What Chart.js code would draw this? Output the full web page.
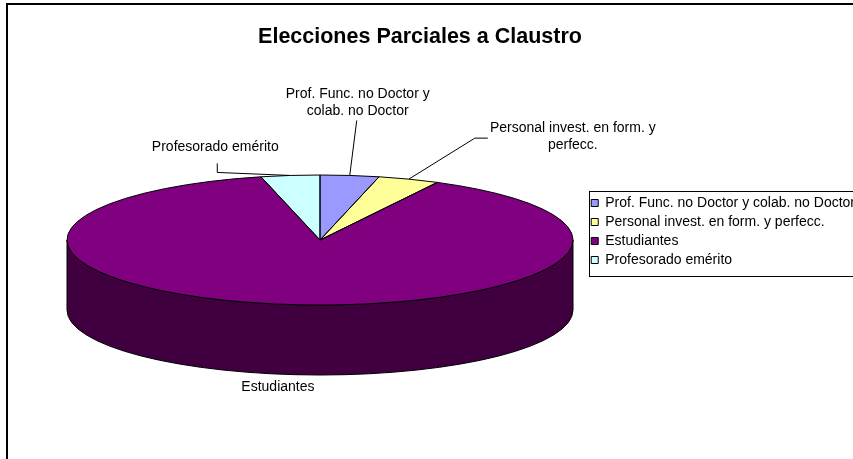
<!DOCTYPE html>
<html>
<head>
<meta charset="utf-8">
<script src="https://cdn.jsdelivr.net/npm/chart.js@4.4.1/dist/chart.umd.min.js"></script>
<style>
  html, body { margin: 0; padding: 0; overflow: hidden; background: #fff; }
  .frame { position: absolute; left: 6px; top: 3px; width: 900px; height: 520px;
           border-left: 2px solid #000; border-top: 2px solid #000; }
  .wrap { position: absolute; left: -25px; top: 0; }
</style>
</head>
<body>
<div class="frame"></div>
<div class="wrap"><canvas id="chart" width="890" height="459"></canvas></div>
<script>
// data (share of the pie, %)
const categories = [
    "Prof. Func. no Doctor y colab. no Doctor",
    "Personal invest. en form. y perfecc.",
    "Estudiantes",
    "Profesorado emérito",
];
const values = [3.75, 3.92, 88.58, 3.75];
const sliceColours = ["#9999FF", "#FFFF99", "#800080", "#CCFFFF"];
// text shown next to each slice
const sliceLabels = [
    ["Prof. Func. no Doctor y", "colab. no Doctor"],
    ["Personal invest. en form. y", "perfecc."],
    ["Estudiantes"],
    ["Profesorado emérito"],
];

const FONT = "Arial, 'Liberation Sans', sans-serif";
const SHIFT = 25; // canvas sits 25px left of the page edge

// tilted pie: centre, radii and thickness of the 3d look
const PIE = { cx: 320 + SHIFT, cy: 240, rx: 253, ry: 65, depth: 70 };

// where each label sits relative to its slice's rim point
const labelLayout = [
    { tx: 8, ty: -81, leader: [[7, -55]] },
    { tx: 164, ty: -51, leader: [[66, -41], [79, -41]] },
    { tx: -11, ty: 13, leader: [] },
    { tx: -75, ty: -28, leader: [[-73, -3], [-73, -12]] },
];

function darken(hex) {
    const n = parseInt(hex.slice(1), 16);
    const r = (n >> 16) >> 1, g = ((n >> 8) & 255) >> 1, b = (n & 255) >> 1;
    return `rgb(${r},${g},${b})`;
}

const pie3d = {
    id: "pie3d",
    beforeDatasetsDraw(chart) {
        const ctx = chart.ctx;
        const arcs = chart.getDatasetMeta(0).data;

        // side wall (only the front half can be seen)
        ctx.save();
        ctx.lineWidth = 1;
        ctx.strokeStyle = "#000";
        arcs.forEach((arc, i) => {
            for (let k = -1; k <= 1; k++) {
                const a = Math.max(arc.startAngle, k * 2 * Math.PI);
                const b = Math.min(arc.endAngle, k * 2 * Math.PI + Math.PI);
                if (b <= a) continue;
                ctx.beginPath();
                ctx.ellipse(PIE.cx, PIE.cy, PIE.rx, PIE.ry, 0, a, b);
                ctx.ellipse(PIE.cx, PIE.cy + PIE.depth, PIE.rx, PIE.ry, 0, b, a, true);
                ctx.closePath();
                ctx.fillStyle = darken(sliceColours[i]);
                ctx.fill();
                ctx.stroke();
            }
        });
        ctx.restore();

        // squash the library's circle onto the tilted top face
        const first = arcs[0];
        ctx.save();
        ctx.translate(PIE.cx, PIE.cy);
        ctx.scale(PIE.rx / first.outerRadius, PIE.ry / first.outerRadius);
        ctx.translate(-first.x, -first.y);
    },
    afterDatasetsDraw(chart) {
        const ctx = chart.ctx;
        ctx.restore();
        const arcs = chart.getDatasetMeta(0).data;

        // slice outlines on the top face
        ctx.save();
        ctx.lineWidth = 1;
        ctx.strokeStyle = "#000";
        arcs.forEach(arc => {
            ctx.beginPath();
            ctx.moveTo(PIE.cx, PIE.cy);
            ctx.ellipse(PIE.cx, PIE.cy, PIE.rx, PIE.ry, 0, arc.startAngle, arc.endAngle);
            ctx.closePath();
            ctx.stroke();
        });

        // data labels with leader lines
        ctx.font = `14px ${FONT}`;
        ctx.fillStyle = "#000";
        ctx.textAlign = "center";
        ctx.textBaseline = "middle";
        arcs.forEach((arc, i) => {
            const mid = (arc.startAngle + arc.endAngle) / 2;
            let ax = PIE.cx + PIE.rx * Math.cos(mid);
            let ay = PIE.cy + PIE.ry * Math.sin(mid);
            if (Math.sin(mid) > 0) ay += PIE.depth;
            const lay = labelLayout[i];
            if (lay.leader.length) {
                ctx.beginPath();
                ctx.moveTo(ax, ay);
                lay.leader.forEach(p => ctx.lineTo(ax + p[0], ay + p[1]));
                ctx.stroke();
            }
            sliceLabels[i].forEach((line, j) => {
                ctx.fillText(line, ax + lay.tx, ay + lay.ty + j * 17);
            });
        });
        ctx.restore();
    },
    afterDraw(chart) {
        // frame round the legend
        const boxes = chart.legend.legendHitBoxes;
        if (!boxes || !boxes.length) return;
        const ctx = chart.ctx;
        const left = Math.min(...boxes.map(b => b.left)) - 2;
        const top = Math.min(...boxes.map(b => b.top)) - 5;
        const bottom = Math.max(...boxes.map(b => b.top + b.height)) + 9;
        ctx.save();
        ctx.lineWidth = 1;
        ctx.strokeStyle = "#000";
        ctx.strokeRect(Math.round(left) + 0.5, Math.round(top) + 0.5, chart.width, Math.round(bottom - top));
        ctx.restore();
    }
};

new Chart(document.getElementById("chart"), {
    type: "pie",
    data: {
        labels: categories,
        datasets: [{
            data: values,
            backgroundColor: sliceColours,
            borderWidth: 0,
            clip: false
        }]
    },
    options: {
        responsive: false,
        animation: false,
        events: [],
        layout: { padding: { top: 4, bottom: 0, left: 0, right: 0 } },
        plugins: {
            title: {
                display: true,
                text: "Elecciones Parciales a Claustro",
                color: "#000",
                font: { family: FONT, size: 21.5, weight: "bold" },
                padding: { top: 20, bottom: 20 }
            },
            legend: {
                position: "right",
                labels: {
                    boxWidth: 7,
                    boxHeight: 7,
                    padding: 5,
                    color: "#000",
                    font: { family: FONT, size: 14 },
                    generateLabels: () => categories.map((text, i) => ({
                        text: text,
                        fillStyle: sliceColours[i],
                        strokeStyle: "#000",
                        lineWidth: 1,
                        hidden: false,
                        index: i
                    }))
                }
            },
            tooltip: { enabled: false }
        }
    },
    plugins: [pie3d]
});
</script>
</body>
</html>
